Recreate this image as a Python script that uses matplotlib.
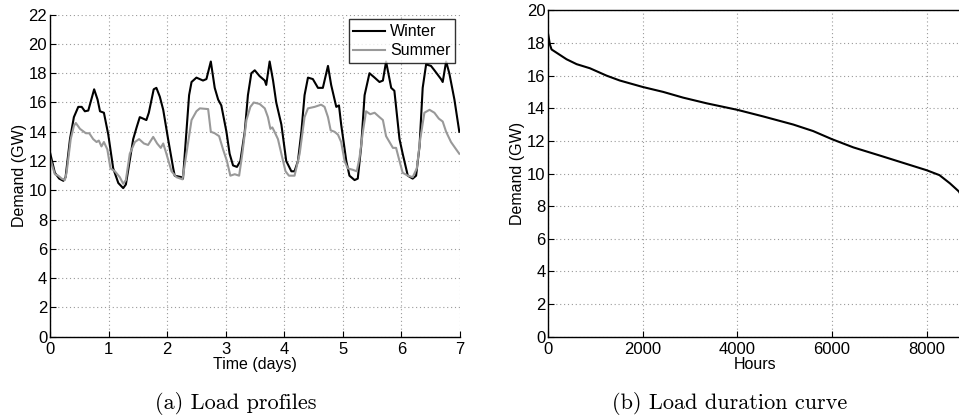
import numpy as np
import matplotlib
matplotlib.use("Agg")
import matplotlib.pyplot as plt

# -----------------------------
# data
# -----------------------------
# weekly load profiles (hour of week, GW)
winter_h = [0, 2.0, 3.8, 5.5, 6.4, 8.2, 9.8, 11.6, 13.0, 14.3, 15.7, 18.1, 19.5, 20.5, 22.1,
            23.9, 25.9, 28.0, 30.0, 31.1, 34.1, 35.5, 36.8, 39.5, 40.5, 42.5, 43.6, 45.0, 46.4,
            48.4, 50.5, 51.1, 53.9, 54.5, 55.9, 57.0, 58.0, 60.0, 62.7, 64.1, 65.9, 67.5, 68.9,
            70.2, 72.3, 73.6, 75.0, 76.6, 78.0, 79.8, 81.1, 82.5, 83.9, 85.9, 88.0, 88.6, 90.0,
            91.4, 92.7, 94.8, 96.8, 98.9, 100.2, 101.6, 103.0, 104.3, 105.7, 107.7, 109.8, 111.8,
            113.9, 115.2, 117.3, 118.4, 119.3, 121.4, 122.7, 124.8, 126.1, 127.5, 128.9, 130.9,
            133.0, 135.0, 136.4, 137.7, 139.8, 141.1, 143.2, 144.5, 146.6, 148.6, 150.0, 151.4,
            152.7, 154.1, 156.1, 157.5, 160.2, 160.9, 162.3, 163.6, 165.7, 167.7]
winter_gw = [12.6, 11.2, 10.8, 10.65, 10.9, 13.5, 15.0, 15.7, 15.7, 15.4, 15.45, 16.9, 16.2, 15.4, 15.3,
             13.8, 11.5, 10.5, 10.15, 10.4, 13.5, 14.3, 15.0, 14.8, 15.3, 16.9, 17.0, 16.4, 15.5,
             13.5, 11.5, 11.0, 10.9, 10.8, 14.0, 16.5, 17.4, 17.7, 17.5, 17.6, 18.8, 17.0, 16.2,
             15.8, 14.0, 12.5, 11.7, 11.6, 12.0, 14.0, 16.5, 18.0, 18.2, 17.8, 17.5, 17.2, 18.8,
             17.5, 16.0, 14.5, 12.0, 11.3, 11.3, 12.0, 14.0, 16.5, 17.7, 17.6, 17.0, 17.0,
             18.5, 17.2, 15.7, 15.8, 14.5, 12.0, 11.0, 10.7, 10.8, 13.0, 16.5, 18.0,
             17.7, 17.4, 17.5, 18.8, 17.0, 16.8, 13.5, 12.5, 11.0, 10.8, 11.0, 13.0,
             17.0, 18.6, 18.5, 18.2, 17.6, 17.4, 18.8, 18.0, 16.2, 14.0]

summer_h = [0, 2.0, 3.4, 4.8, 6.1, 6.8, 8.5, 9.8, 10.6, 12.3, 14.7, 16.1, 17.7, 19.1, 20.0, 21.1,
            22.1, 23.5, 24.8, 26.6, 28.6, 30.0, 31.1, 32.7, 34.8, 36.5, 38.5, 40.2, 42.3, 43.9,
            45.4, 46.4, 47.7, 49.8, 51.8, 54.3, 55.9, 58.0, 60.0, 61.4, 64.8, 65.9, 67.5, 69.3,
            70.9, 72.5, 73.9, 75.7, 77.5, 78.8, 80.5, 82.1, 83.5, 85.9, 88.0, 89.3, 90.3, 91.1,
            92.0, 93.4, 94.8, 96.5, 97.9, 100.2, 102.3, 104.3, 105.7, 108.4, 111.1, 112.5, 113.9,
            115.0, 116.6, 118.0, 119.3, 120.7, 122.0, 124.1, 125.7, 126.8, 128.2, 129.5, 131.2,
            133.0, 135.0, 136.4, 137.7, 139.1, 140.5, 141.8, 143.2, 144.5, 146.6, 148.6, 150.3,
            151.7, 153.4, 155.5, 157.5, 159.3, 160.9, 162.3, 164.3, 166.4, 167.7]
summer_gw = [12.2, 11.1, 11.0, 10.8, 10.7, 11.2, 13.5, 14.4, 14.6, 14.2, 13.9, 13.9, 13.5, 13.3, 13.4, 13.0,
             13.3, 12.8, 11.5, 11.3, 10.9, 10.45, 10.7, 12.5, 13.3, 13.5, 13.2, 13.1, 13.65, 13.2,
             12.9, 13.2, 12.5, 11.3, 10.9, 10.75, 12.5, 14.8, 15.4, 15.6, 15.55, 14.0, 13.9, 13.7,
             12.8, 12.0, 11.0, 11.1, 11.0, 12.5, 14.8, 15.7, 16.0, 15.9, 15.6, 15.0, 14.2, 14.3,
             14.0, 13.5, 12.5, 11.3, 11.0, 11.0, 12.5, 15.0, 15.6, 15.7, 15.85, 15.7, 15.0,
             14.1, 14.0, 13.8, 13.3, 12.0, 11.5, 11.4, 11.3, 12.2, 14.0, 15.4, 15.2,
             15.3, 15.0, 14.8, 13.7, 13.3, 12.9, 12.9, 12.0, 11.2, 11.0, 10.9, 11.5,
             13.5, 15.3, 15.5, 15.3, 14.9, 14.7, 14.0, 13.3, 12.8, 12.5]

# load duration curve (hours, GW)
ldc_hours = [0, 35, 70, 176, 387, 600, 880, 1230, 1510, 2000, 2430, 2850, 3350, 4000,
             4540, 5180, 5600, 6000, 6450, 7010, 7560, 8000, 8270, 8490, 8680, 8760]
ldc_gw = [18.5, 17.9, 17.6, 17.4, 17.0, 16.7, 16.45, 16.0, 15.7, 15.3, 15.0, 14.65, 14.3, 13.9,
          13.5, 13.0, 12.6, 12.1, 11.6, 11.1, 10.6, 10.2, 9.9, 9.4, 8.9, 8.5]

# -----------------------------
# plot
# -----------------------------
plt.rcParams["font.family"] = ["Liberation Sans", "DejaVu Sans"]

fig = plt.figure(figsize=(9.59, 4.19), dpi=100)
ax1 = fig.add_axes([0.0521, 0.1964, 0.4276, 0.7686])
ax2 = fig.add_axes([0.5717, 0.1964, 0.4321, 0.7790])


def style(ax):
    ax.grid(True, linestyle=(0, (1, 2.5)), color="#9a9a9a", linewidth=0.8)
    ax.tick_params(direction="in", labelsize=12, length=4, width=0.8, pad=2,
                   top=False, right=False)
    ax.tick_params(axis="x", pad=4)
    for s in ["left", "bottom"]:
        ax.spines[s].set_linewidth(1.0)
    ax.spines["right"].set_visible(False)
    ax.set_axisbelow(True)


# (a) load profiles
ax1.plot(np.array(winter_h) / 24.0, winter_gw, color="black", lw=1.5, label="Winter")
ax1.plot(np.array(summer_h) / 24.0, summer_gw, color="#999999", lw=1.5, label="Summer")
ax1.set_xlim(0, 7)
ax1.set_ylim(0, 22)
ax1.set_xticks(range(0, 8))
ax1.set_yticks(range(0, 23, 2))
style(ax1)
ax1.spines["top"].set_visible(False)
ax1.set_xlabel("Time (days)", fontsize=11.5, labelpad=0)
ax1.set_ylabel("Demand (GW)", fontsize=11.5, labelpad=1)
leg = ax1.legend(loc="upper right", fontsize=11.5, frameon=True, fancybox=False,
                 handlelength=2.0, handletextpad=0.3, borderpad=0.3, labelspacing=0.25,
                 borderaxespad=0.3)
leg.get_frame().set_edgecolor("black")
leg.get_frame().set_linewidth(1.0)

# (b) load duration curve
ax2.plot(ldc_hours, ldc_gw, color="black", lw=1.5)
ax2.set_xlim(0, 8760)
ax2.set_ylim(0, 20)
ax2.set_xticks(range(0, 8761, 2000))
ax2.set_yticks(range(0, 21, 2))
style(ax2)
ax2.spines["top"].set_linewidth(1.0)
ax2.set_xlabel("Hours", fontsize=11.5, labelpad=0)
ax2.set_ylabel("Demand (GW)", fontsize=11.5, labelpad=1)

# captions
fig.text(0.246, 0.036, "(a) Load profiles", fontname="cmr10", fontsize=16,
         ha="center", va="center")
fig.text(0.761, 0.036, "(b) Load duration curve", fontname="cmr10", fontsize=16,
         ha="center", va="center")

fig.savefig("out.png", dpi=100)
print("done")
